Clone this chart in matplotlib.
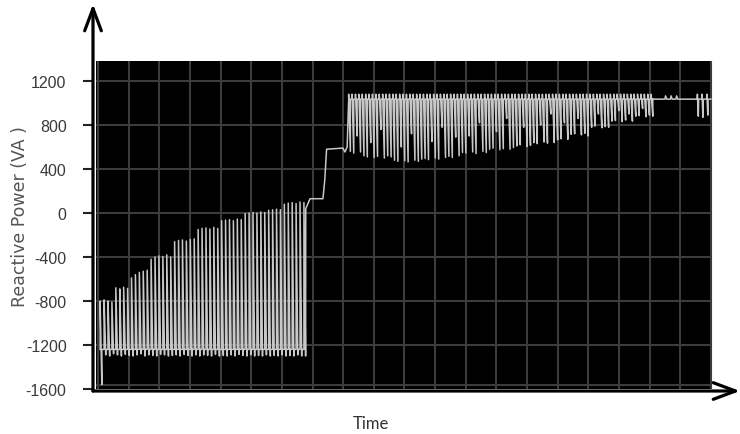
import numpy as np
import matplotlib.pyplot as plt
from matplotlib.patches import Rectangle

# ---------------- data ----------------
y_ticks = [-1600, -1200, -800, -400, 0, 400, 800, 1200]

# part 1: spikes up from a low baseline (time in grid columns)
a_base = -1240
a_top = [-800, -790, -800, -810,
         -680, -690, -675, -685,
         -590, -560, -540, -530, -520,
         -420, -400, -390, -395, -380, -400,
         -260, -250, -245, -255, -240, -235,
         -150, -140, -135, -145, -130, -140,
         -70, -65, -60, -70, -55, -60,
         -5, 0, 5, 0, 10, 5,
         25, 30, 35, 30,
         80, 90, 95, 85, 100, 95]
a_low = [-1560, -1290, -1300, -1280,
         -1290, -1300, -1285, -1295,
         -1300, -1290, -1280, -1300, -1290,
         -1295, -1300, -1285, -1290, -1300, -1295,
         -1290, -1300, -1285, -1295, -1300, -1290,
         -1300, -1290, -1295, -1300, -1285, -1300,
         -1295, -1300, -1290, -1300, -1285, -1295,
         -1300, -1290, -1300, -1295, -1300, -1290,
         -1300, -1295, -1300, -1290,
         -1300, -1295, -1300, -1290, -1300, -1300]
a_t = np.linspace(0.07, 6.72, len(a_top))

# step between the two parts
tr_t = [6.78, 6.92, 7.34, 7.40, 7.46, 7.99, 8.06, 8.13]
tr_v = [40, 130, 130, 300, 580, 590, 555, 600]

# part 2: spikes down from a high baseline
b_base = 1035
b_peak = 1080
b_low = [560, 545, 700, 555,
         520, 510, 640, 505, 515, 760, 500, 520, 510,
         480, 470, 600, 475, 465, 720, 480, 470, 490,
         495, 485, 650, 500, 490, 780, 505,
         515, 505, 690, 520,
         550, 545, 700, 555, 540, 820, 560, 550,
         580, 590, 740, 575, 585, 860, 580, 595,
         610, 620, 780, 605, 615,
         640, 630, 800, 645, 635, 900, 640,
         665, 675, 820, 670,
         715, 720, 860, 710, 725, 700,
         780, 790, 900, 775, 785, 780,
         835, 840, 930, 830, 845, 900, 835,
         880, 885, 950, 875, 890, 880]
b_t = np.linspace(8.18, 18.05, len(b_low))

# steady tail
tail_t = [18.07, 18.50, 18.52, 18.56, 18.68, 18.70, 18.74, 18.86, 18.88, 18.92,
          19.55, 19.56, 19.59, 19.60, 19.70, 19.71, 19.74, 19.75,
          19.86, 19.87, 19.90, 19.91, 20.0]
tail_v = [1035, 1035, 1065, 1035, 1035, 1065, 1035, 1035, 1065, 1035,
          1035, 1080, 880, 1035, 1035, 1080, 870, 1035,
          1035, 1080, 890, 1035, 1035]

# ---------------- build the trace ----------------
dw = 0.055
xs, ys = [], []
for t, top, low in zip(a_t, a_top, a_low):
    xs += [t, t, t + dw, t + dw]
    ys += [a_base, top, low, a_base]
xs += tr_t
ys += tr_v
for t, low in zip(b_t, b_low):
    xs += [t, t, t + dw, t + dw]
    ys += [b_base, b_peak, low, b_base]
xs += tail_t
ys += tail_v

# ---------------- figure ----------------
fig = plt.figure(figsize=(7.4, 4.35), dpi=100)
ax = fig.add_axes([93/740, 43/435, 647/740, 387/435])
ax.set_xlim(-0.163, 20.95)
ax.set_ylim(-1618, 1900)

# black scope panel
ax.add_patch(Rectangle((-0.065, -1600), 20.065, 2982, facecolor='black',
                       edgecolor='none', zorder=0))
ax.vlines(range(0, 21), -1600, 1382, color='#3c3c3c', lw=1.5, zorder=1)
ax.hlines([-1560] + y_ticks[1:], -0.065, 20.0, color='#3c3c3c', lw=1.5, zorder=1)

ax.plot(xs, ys, color='#c8c8c8', lw=1.1, zorder=2)

# axes with arrows
for s in ['top', 'right', 'left', 'bottom']:
    ax.spines[s].set_visible(False)
ax.annotate('', xy=(0, 1.0), xytext=(0, 0), xycoords='axes fraction',
            arrowprops=dict(arrowstyle='->,head_length=1.6,head_width=0.6',
                            lw=2.3, color='black', shrinkA=0, shrinkB=0),
            annotation_clip=False)
ax.annotate('', xy=(1.0, 0), xytext=(0, 0), xycoords='axes fraction',
            arrowprops=dict(arrowstyle='->,head_length=1.6,head_width=0.6',
                            lw=2.3, color='black', shrinkA=0, shrinkB=0),
            annotation_clip=False)

ax.set_xticks([])
ax.set_yticks(y_ticks)
ax.set_yticklabels([str(v) for v in y_ticks], family='Liberation Sans',
                   fontsize=11.5, color='#3a3a3a')
ax.tick_params(axis='y', direction='out', length=7, width=1.5, pad=12,
               color='#222222')

fig.text(20/740, 1 - 217/435, 'Reactive Power (VA )', rotation=90,
         ha='center', va='center', fontsize=12.5, color='#555555',
         family='DejaVu Sans')
fig.text(371/740, 1 - 424/435, 'Time', ha='center', va='center',
         fontsize=12, color='#333333', family='Lato')

fig.savefig('out.png', dpi=100)
